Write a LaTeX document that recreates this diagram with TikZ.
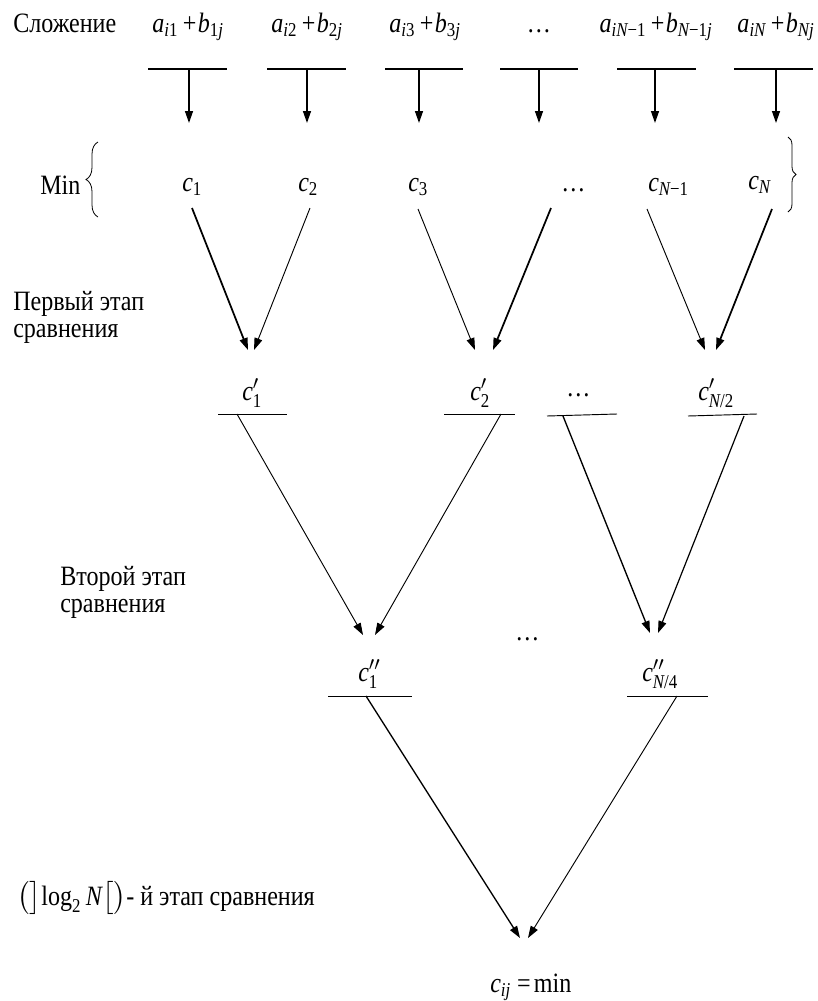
\RequirePackage{fix-cm}
\documentclass[tikz,border=0pt]{standalone}
\usepackage{amsmath}
\usepackage{fontspec}
\setmainfont[FakeStretch=0.86]{Liberation Serif}
\usetikzlibrary{arrows.meta,decorations.pathreplacing}
\newcommand{\vv}[1]{\textit{#1}}
\newcommand{\pl}{\mkern3mu\text{+}\mkern1mu}
\newcommand{\mn}{\text{−}}
\begin{document}
\begin{tikzpicture}[x=0.75pt,y=-0.75pt,
  lbl/.style={inner sep=0pt,font=\fontsize{21}{25}\selectfont},
  lwA/.style={line width=0.7pt},
  lwB/.style={line width=1.3pt},
  lwT/.style={line width=1pt},
  arr/.style={-{Triangle[length=9pt,width=6pt]}},
  brc/.style={decorate,line width=0.6pt}]
\fill[white] (0,0) rectangle (818,1001);
\useasboundingbox (0,0) rectangle (818,1001);

% ---------- top row: addition ----------
\node[lbl,anchor=base west] (slo) at (13,32) {Сложение};
\node[lbl,anchor=base] (s1) at (188,32) {$\vv{a}_{\vv{i}\text{1}}\pl\vv{b}_{\text{1}\vv{j}}$};
\node[lbl,anchor=base] (s2) at (307,32) {$\vv{a}_{\vv{i}\text{2}}\pl\vv{b}_{\text{2}\vv{j}}$};
\node[lbl,anchor=base] (s3) at (425,32) {$\vv{a}_{\vv{i}\text{3}}\pl\vv{b}_{\text{3}\vv{j}}$};
\node[lbl,anchor=base] (s4) at (539,32) {…};
\node[lbl,anchor=base] (s5) at (656,32) {$\vv{a}_{\vv{iN}\mn\text{1}}\pl\vv{b}_{\vv{N}\mn\text{1}\vv{j}}$};
\node[lbl,anchor=base] (s6) at (776,32) {$\vv{a}_{\vv{iN}}\pl\vv{b}_{\vv{Nj}}$};

\foreach \i/\a/\b/\m in {1/148/227/189, 2/267/346/307, 3/385/463/419, 4/500/578/539, 5/617/696/655, 6/734/813/776}{
  \coordinate (hl\i a) at (\a,69);
  \coordinate (hl\i b) at (\b,69);
  \coordinate (ta\i) at (\m,69);
  \coordinate (tb\i) at (\m,123);
  \draw[lwT] (hl\i a) -- (hl\i b);
  \draw[lwT,arr] (ta\i) -- (tb\i);
}

% ---------- Min row ----------
\node[lbl,anchor=base west] (min) at (40,194) {Min};
\coordinate (lbr1) at (98,217);
\coordinate (lbr2) at (98,142);
\draw[brc,decoration={brace,amplitude=9pt}] (lbr1) -- (lbr2);
\coordinate (rbr1) at (788,137);
\coordinate (rbr2) at (788,212);
\draw[brc,decoration={brace,amplitude=6pt}] (rbr1) -- (rbr2);

\node[lbl,anchor=base west] (c1) at (182,191) {$\vv{c}_{\text{1}}$};
\node[lbl,anchor=base west] (c2) at (298,191) {$\vv{c}_{\text{2}}$};
\node[lbl,anchor=base west] (c3) at (408,191) {$\vv{c}_{\text{3}}$};
\node[lbl,anchor=base west] (cd) at (561,191) {…};
\node[lbl,anchor=base west] (cn1) at (648,191) {$\vv{c}_{\vv{N}\mn\text{1}}$};
\node[lbl,anchor=base west] (cn) at (748,189) {$\vv{c}_{\vv{N}}$};

\coordinate (p1s) at (192,208); \coordinate (p1e) at (248,350);
\coordinate (p2s) at (310,208); \coordinate (p2e) at (254,350);
\coordinate (p3s) at (418,209); \coordinate (p3e) at (475,350);
\coordinate (p4s) at (551,208); \coordinate (p4e) at (493,350);
\coordinate (p5s) at (647,209); \coordinate (p5e) at (705,350);
\coordinate (p6s) at (772,209); \coordinate (p6e) at (716,350);
\draw[lwB,arr] (p1s) -- (p1e);
\draw[lwA,arr] (p2s) -- (p2e);
\draw[lwA,arr] (p3s) -- (p3e);
\draw[lwB,arr] (p4s) -- (p4e);
\draw[lwA,arr] (p5s) -- (p5e);
\draw[lwB,arr] (p6s) -- (p6e);

% ---------- first comparison stage ----------
\node[lbl,anchor=base west] (st1a) at (13,310) {Первый этап};
\node[lbl,anchor=base west] (st1b) at (13,337) {сравнения};

\node[lbl,anchor=base west] (d1) at (242,400) {$\vv{c}'_{\text{1}}$};
\node[lbl,anchor=base west] (d2) at (470,400) {$\vv{c}'_{\text{2}}$};
\node[lbl,anchor=base west] (dd) at (566,396) {…};
\node[lbl,anchor=base west] (dn) at (698,400) {$\vv{c}'_{\vv{N}\text{/2}}$};

\coordinate (u1a) at (218,414); \coordinate (u1b) at (287,414);
\coordinate (u2a) at (444,414); \coordinate (u2b) at (515,414);
\coordinate (u3a) at (547,416); \coordinate (u3b) at (617,414);
\coordinate (u4a) at (688,416); \coordinate (u4b) at (757,414);
\draw[lwA] (u1a) -- (u1b);
\draw[lwA] (u2a) -- (u2b);
\draw[lwA] (u3a) -- (u3b);
\draw[lwA] (u4a) -- (u4b);

\coordinate (q1s) at (237,414); \coordinate (q1e) at (363,635);
\coordinate (q2s) at (501,414); \coordinate (q2e) at (375,635);
\coordinate (q3s) at (563,416); \coordinate (q3e) at (650,633);
\coordinate (q4s) at (744,416); \coordinate (q4e) at (658,633);
\draw[lwA,arr] (q1s) -- (q1e);
\draw[lwA,arr] (q2s) -- (q2e);
\draw[line width=1pt,arr] (q3s) -- (q3e);
\draw[line width=0.9pt,arr] (q4s) -- (q4e);

% ---------- second comparison stage ----------
\node[lbl,anchor=base west] (st2a) at (60,585) {Второй этап};
\node[lbl,anchor=base west] (st2b) at (60,612) {сравнения};
\node[lbl,anchor=base west] (ed) at (515,640) {…};

\node[lbl,anchor=base west] (e1) at (358,681) {$\vv{c}''_{\text{1}}$};
\node[lbl,anchor=base west] (en) at (642,681) {$\vv{c}''_{\vv{N}\text{/4}}$};

\coordinate (v1a) at (328,696); \coordinate (v1b) at (412,696);
\coordinate (v2a) at (627,696); \coordinate (v2b) at (708,696);
\draw[lwA] (v1a) -- (v1b);
\draw[lwA] (v2a) -- (v2b);

\coordinate (r1s) at (366,696); \coordinate (r1e) at (520,938);
\coordinate (r2s) at (677,696); \coordinate (r2e) at (528,938);
\draw[line width=1pt,arr] (r1s) -- (r1e);
\draw[lwA,arr] (r2s) -- (r2e);

% ---------- last stage ----------
\node[lbl,anchor=base west] (st3) at (17,905) {$\bigl(\bigr]\text{log}_{\text{2}}\,\vv{N}\bigl[\bigr)$- й этап сравнения};
\node[lbl,anchor=base west] (res) at (490,992) {$\vv{c}_{\vv{ij}}\mkern4mu\text{=}\mkern2mu\text{min}$};
\end{tikzpicture}
\end{document}
